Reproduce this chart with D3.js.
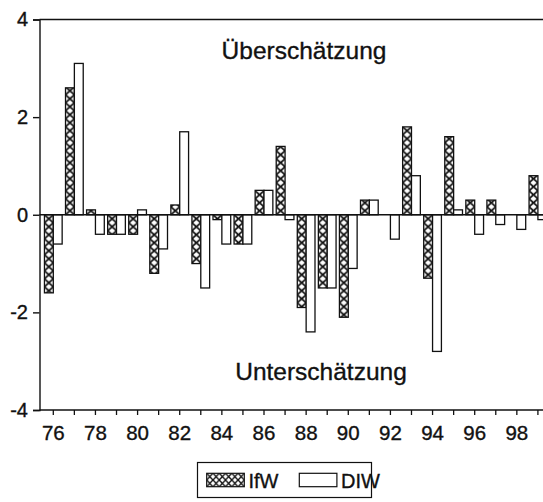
<!DOCTYPE html>
<html>
<head>
<meta charset="utf-8">
<script src="https://cdn.jsdelivr.net/npm/d3@7"></script>
<style>
  html,body{margin:0;padding:0;background:#fff;}
  svg{display:block;}
  text{font-family:Arial,"Liberation Sans",Helvetica,sans-serif;fill:#111;stroke:#111;stroke-width:0.35px;}
</style>
</head>
<body>
<svg id="chart" width="543" height="502"></svg>
<script>
// Prognosefehler IfW vs. DIW, 1976-1999 (Prozentpunkte)
const years = ["76","77","78","79","80","81","82","83","84","85","86","87",
               "88","89","90","91","92","93","94","95","96","97","98","99"];
const yearLabels = ["76","78","80","82","84","86","88","90","92","94","96","98"];
const series = ["IfW","DIW"];
const ifw = [-1.6, 2.6, 0.1,-0.4,-0.4,-1.2, 0.2,-1.0,-0.1,-0.6, 0.5, 1.4,
             -1.9,-1.5,-2.1, 0.3, 0.0, 1.8,-1.3, 1.6, 0.3, 0.3, 0.0, 0.8];
const diw = [-0.6, 3.1,-0.4,-0.4, 0.1,-0.7, 1.7,-1.5,-0.6,-0.6, 0.5,-0.1,
             -2.4,-1.5,-1.1, 0.3,-0.5, 0.8,-2.8, 0.1,-0.4,-0.2,-0.3,-0.1];
const yTicks = [-4,-2,0,2,4];

(function(){
const W = 543;
const mLeft = 39.5, mTop = 19.5, mBottom = 410;
const svg = d3.select('#chart');
const ink = '#111';

// scales
const step = 21.07;
const x = d3.scaleBand().domain(years).range([53.3 - step/2, 53.3 - step/2 + years.length*step]).padding(0);
const xs = d3.scaleBand().domain(series).range([0, x.bandwidth()]).paddingInner(0).paddingOuter(0.19);
const y = d3.scaleLinear().domain([-4,4]).range([mBottom, mTop]);

const rows = years.map((yr,i)=>({yr, IfW: ifw[i], DIW: diw[i]}));

// hatch patterns: one per IfW bar so the lattice starts at the bar edge
const defs = svg.append('defs');
const bw = xs.bandwidth();
defs.selectAll('pattern.bar').data(rows).join('pattern')
  .attr('class','bar')
  .attr('id',(d,i)=>'hatch'+i)
  .attr('patternUnits','userSpaceOnUse')
  .attr('x', d=>x(d.yr)+xs('IfW'))
  .attr('y', y(0))
  .attr('width', bw).attr('height', 8)
  .each(function(){
    const p = d3.select(this);
    p.append('rect').attr('width',bw).attr('height',8).attr('fill','#fff');
    p.append('path').attr('d',`M0,0L${bw},8M${bw},0L0,8`)
      .attr('stroke',ink).attr('stroke-width',1.7).attr('fill','none');
  });

// bars
const g = svg.append('g');
series.forEach(s=>{
  g.selectAll('rect.'+s).data(rows).join('rect')
    .attr('class',s)
    .attr('x', d=>x(d.yr)+xs(s))
    .attr('y', d=>y(Math.max(0,d[s])))
    .attr('width', bw)
    .attr('height', d=>Math.abs(y(d[s])-y(0)))
    .attr('fill', (d,i)=> s==='IfW' ? `url(#hatch${i})` : '#fff')
    .attr('stroke', ink).attr('stroke-width',1.3)
    .attr('display', d=> d[s]===0 ? 'none' : null);
});

// frame: zero line, top and bottom lines
[0, 4, -4].forEach(v=>{
  svg.append('line').attr('x1',mLeft).attr('x2',W).attr('y1',y(v)).attr('y2',y(v))
    .attr('stroke',ink).attr('stroke-width',1.4);
});

// y axis
const ya = svg.append('g').attr('transform',`translate(${mLeft},0)`)
  .call(d3.axisLeft(y).tickValues(yTicks).tickSize(6.5).tickPadding(5).tickFormat(d3.format('d')));
ya.select('.domain').attr('stroke',ink).attr('stroke-width',1.4);
ya.selectAll('.tick line').attr('stroke',ink).attr('stroke-width',1.4);
ya.selectAll('.tick text').attr('font-size',20).attr('fill',ink)
  .text(d=> d<0 ? '-'+Math.abs(d) : d);

// x axis
const xa = svg.append('g').attr('transform',`translate(0,${mBottom})`)
  .call(d3.axisBottom(x).tickSize(5).tickSizeOuter(0).tickPadding(10.5)
    .tickFormat(d=> yearLabels.includes(d) ? d : ''));
xa.select('.domain').remove();
xa.selectAll('.tick line').attr('stroke',ink).attr('stroke-width',1.3);
xa.selectAll('.tick text').attr('font-size',20.5).attr('fill',ink);

// annotations
svg.append('text').attr('x',304).attr('y',59).attr('text-anchor','middle')
  .attr('font-size',24.5).text('Überschätzung');
svg.append('text').attr('x',321).attr('y',380).attr('text-anchor','middle')
  .attr('font-size',24.5).text('Unterschätzung');

// legend
const lg = svg.append('g');
lg.append('rect').attr('x',197.5).attr('y',462.5).attr('width',174).attr('height',35)
  .attr('fill','#fff').attr('stroke',ink).attr('stroke-width',1.2);
const lp = defs.append('pattern').attr('id','hatchLegend').attr('patternUnits','userSpaceOnUse')
  .attr('x',206.7).attr('y',473.3).attr('width',6.27).attr('height',6.7);
lp.append('rect').attr('width',6.27).attr('height',6.7).attr('fill','#fff');
lp.append('path').attr('d','M0,0L6.27,6.7M6.27,0L0,6.7').attr('stroke',ink).attr('stroke-width',1.4);
const legendItems = [
  {name:'IfW', sx:206.7, tx:248.5, fill:'url(#hatchLegend)'},
  {name:'DIW', sx:299.3, tx:341, fill:'#fff'}
];
legendItems.forEach(it=>{
  lg.append('rect').attr('x',it.sx).attr('y',473.3).attr('width',37.6).attr('height',13.4)
    .attr('fill',it.fill).attr('stroke',ink).attr('stroke-width',1.2);
  lg.append('text').attr('x',it.tx).attr('y',487.5).attr('font-size',20).text(it.name);
});
})();
</script>
</body>
</html>
